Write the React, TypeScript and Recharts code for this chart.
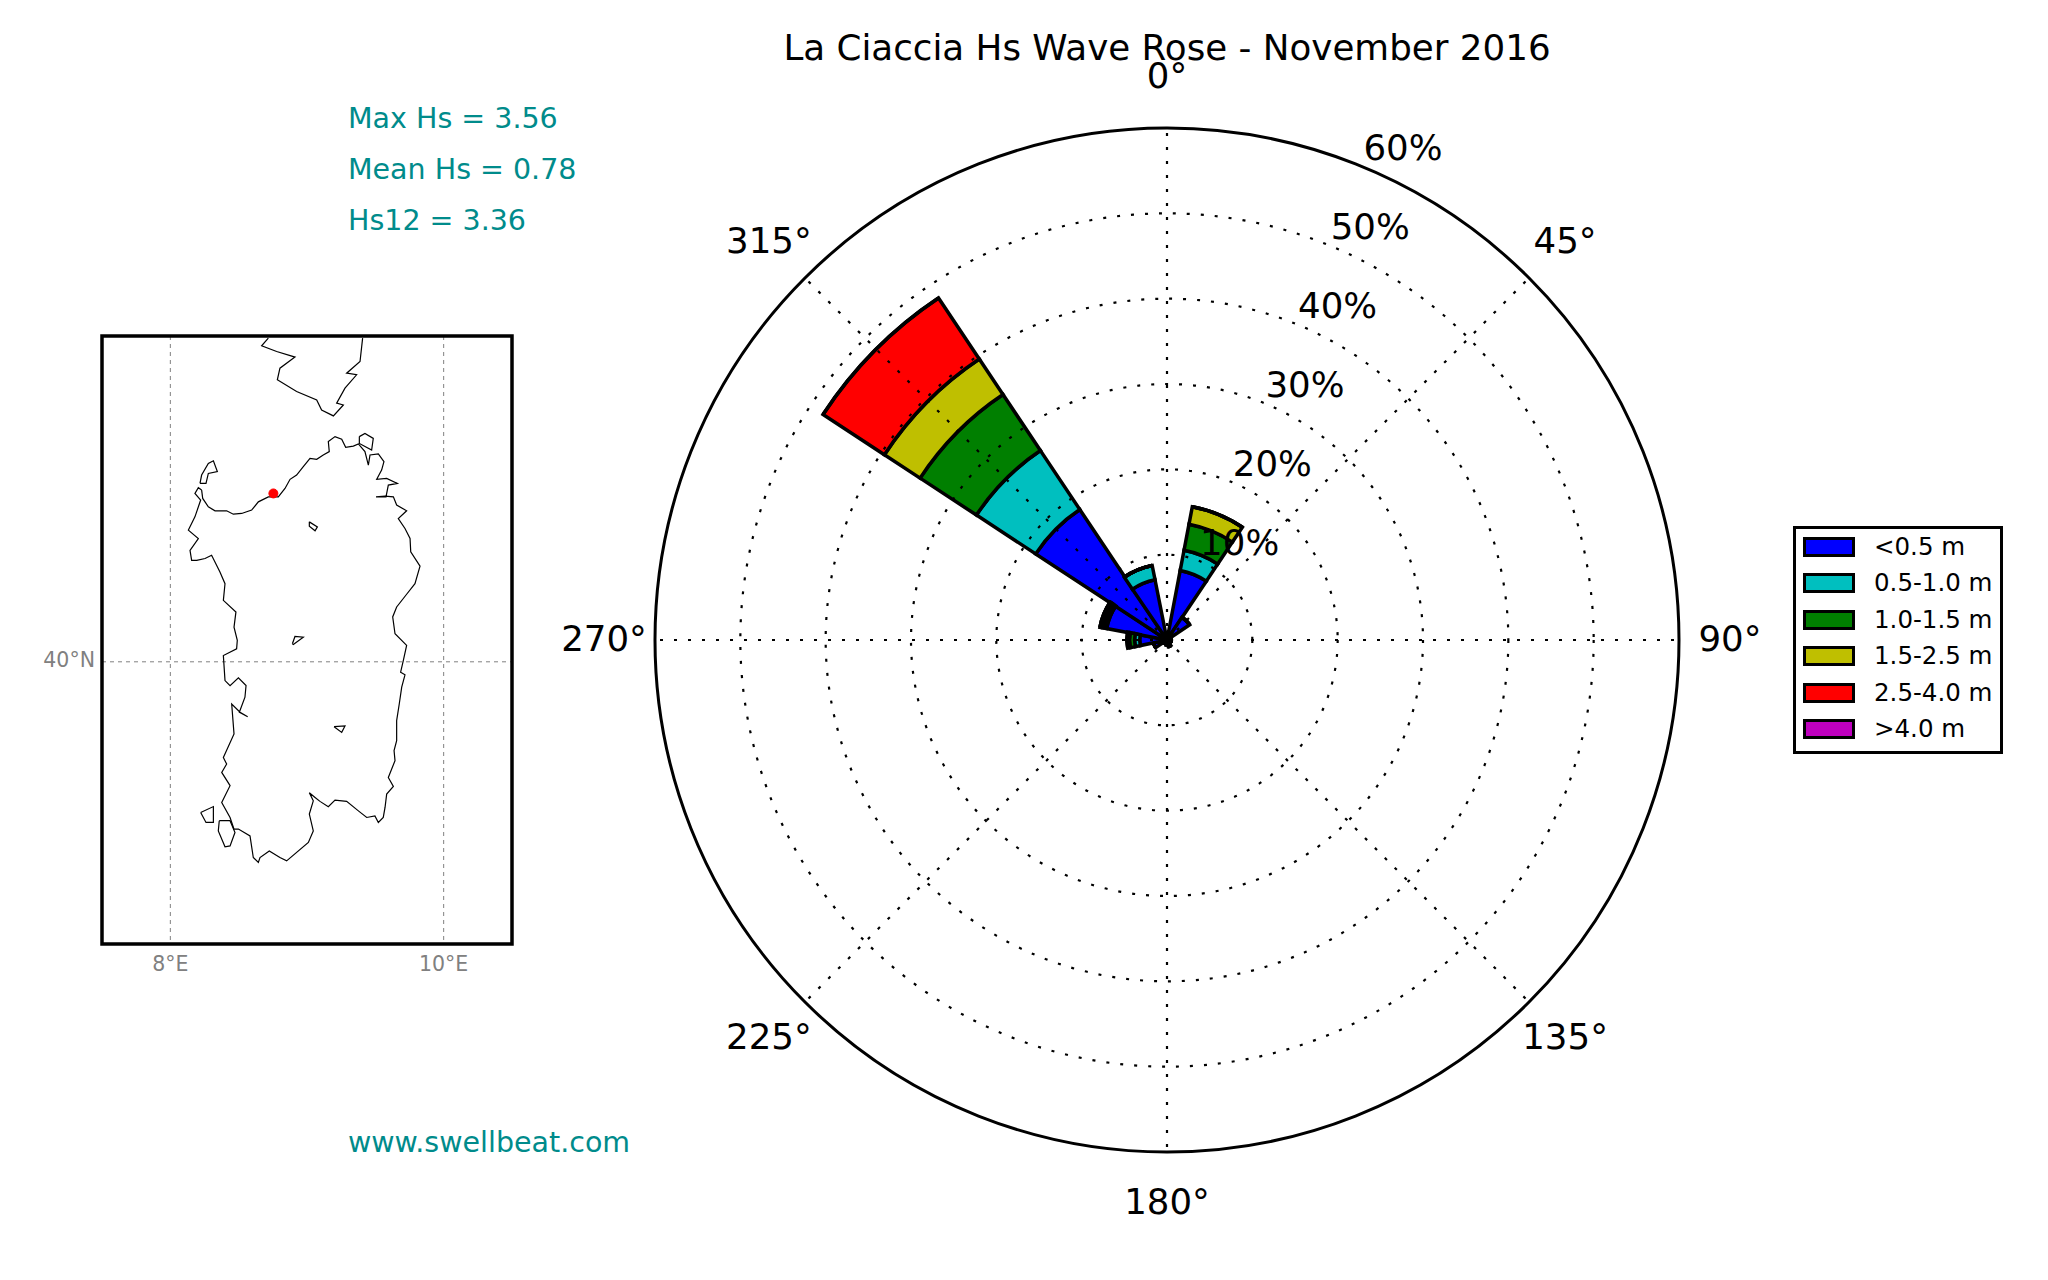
import React from "react";
import {
  RadialBarChart,
  RadialBar,
  PolarAngleAxis,
  PolarRadiusAxis,
  PolarGrid,
  Legend,
  LineChart,
  Line,
  XAxis,
  YAxis,
  CartesianGrid,
  ReferenceArea,
  ReferenceDot,
} from "recharts";

const FONT = "'DejaVu Sans', sans-serif";
const TEAL = "#008b8b";
const CX = 1167;
const CY = 640;
const OUTER = 512;
const LABEL_RADIUS = 563;

const directions = [0, 22.5, 45, 67.5, 90, 112.5, 135, 157.5, 180, 202.5, 225, 247.5, 270, 292.5, 315, 337.5];

// share of records (%) per direction bin
const under05 = [0.2, 8.3, 3.2, 0.5, 0.5, 0.5, 0.4, 0.8, 0.6, 0.4, 0.5, 1.6, 3.2, 7.2, 18.4, 7.2];
const from05to10 = [0, 2.4, 0, 0, 0, 0, 0, 0, 0, 0, 0, 0, 0.6, 0.4, 8.3, 1.7];
const from10to15 = [0, 3.1, 0, 0, 0, 0, 0, 0, 0, 0, 0, 0, 0.6, 0.3, 7.9, 0];
const from15to25 = [0, 2.1, 0, 0, 0, 0, 0, 0, 0, 0, 0, 0, 0.3, 0.1, 5.0, 0];
const from25to40 = [0, 0, 0, 0, 0, 0, 0, 0, 0, 0, 0, 0, 0, 0, 8.6, 0];
const over40 = [0, 0, 0, 0, 0, 0, 0, 0, 0, 0, 0, 0, 0, 0, 0, 0];

const classNames = ["<0.5 m", "0.5-1.0 m", "1.0-1.5 m", "1.5-2.5 m", "2.5-4.0 m", ">4.0 m"];
const classColors = ["#0000ff", "#00bfbf", "#007f00", "#bfbf00", "#ff0000", "#bf00bf"];
const classValues = [under05, from05to10, from10to15, from15to25, from25to40, over40];

const radiusTicks = [0, 10, 20, 30, 40, 50, 60];
const gridAngles = [0, 45, 90, 135, 180, 225, 270, 315];

const statLines = ["Max Hs = 3.56", "Mean Hs = 0.78", "Hs12 = 3.36"];

// map inset, [lon, lat]
const sardinia = [
  [8.229, 40.961], [8.237, 40.914], [8.278, 40.867], [8.327, 40.845], [8.412, 40.845], [8.461, 40.826],
  [8.522, 40.83], [8.595, 40.849], [8.644, 40.895], [8.717, 40.923], [8.79, 40.923], [8.839, 40.97],
  [8.876, 41.021], [8.924, 41.045], [8.973, 41.092], [9.022, 41.138], [9.071, 41.133], [9.119, 41.157],
  [9.163, 41.176], [9.156, 41.232], [9.205, 41.26], [9.254, 41.245], [9.283, 41.2], [9.339, 41.207],
  [9.376, 41.219], [9.424, 41.176], [9.449, 41.101], [9.461, 41.157], [9.522, 41.163], [9.563, 41.12],
  [9.546, 41.073], [9.51, 41.021], [9.583, 41.026], [9.661, 40.998], [9.595, 40.989], [9.578, 40.923],
  [9.505, 40.923], [9.571, 40.927], [9.632, 40.923], [9.656, 40.877], [9.729, 40.845], [9.668, 40.802],
  [9.717, 40.746], [9.754, 40.69], [9.759, 40.615], [9.827, 40.535], [9.79, 40.437], [9.729, 40.378],
  [9.656, 40.307], [9.627, 40.251], [9.644, 40.157], [9.729, 40.092], [9.705, 40.008], [9.685, 39.942],
  [9.717, 39.927], [9.693, 39.858], [9.675, 39.764], [9.656, 39.671], [9.656, 39.559], [9.637, 39.503],
  [9.644, 39.447], [9.595, 39.353], [9.632, 39.303], [9.583, 39.26], [9.571, 39.185], [9.558, 39.129],
  [9.522, 39.101], [9.497, 39.138], [9.437, 39.129], [9.376, 39.166], [9.29, 39.219], [9.205, 39.226],
  [9.156, 39.189], [9.095, 39.219], [9.059, 39.241], [9.017, 39.267], [9.046, 39.222], [9.017, 39.148],
  [9.046, 39.054], [9.01, 38.989], [8.851, 38.886], [8.802, 38.905], [8.724, 38.942], [8.656, 38.905],
  [8.644, 38.877], [8.607, 38.905], [8.583, 39.026], [8.498, 39.064], [8.466, 39.064], [8.437, 39.129],
  [8.376, 39.213], [8.437, 39.307], [8.376, 39.381], [8.412, 39.428], [8.388, 39.465], [8.466, 39.596],
  [8.449, 39.764], [8.51, 39.718], [8.566, 39.693], [8.505, 39.718], [8.546, 39.802], [8.554, 39.867],
  [8.498, 39.91], [8.437, 39.867], [8.4, 39.895], [8.388, 40.035], [8.485, 40.073], [8.49, 40.12],
  [8.466, 40.194], [8.48, 40.279], [8.388, 40.344], [8.4, 40.437], [8.363, 40.503], [8.302, 40.596],
  [8.254, 40.578], [8.193, 40.568], [8.156, 40.568], [8.144, 40.624], [8.205, 40.69], [8.132, 40.737],
  [8.18, 40.811], [8.222, 40.905], [8.18, 40.942], [8.205, 40.974], [8.229, 40.961],
];
const asinara = [
  [8.217, 40.998], [8.229, 41.045], [8.278, 41.11], [8.315, 41.125], [8.344, 41.064], [8.278, 41.054],
  [8.261, 40.998], [8.217, 40.998],
];
const corsica = [
  [8.717, 41.811], [8.668, 41.768], [8.778, 41.736], [8.912, 41.705], [8.802, 41.643], [8.783, 41.578],
  [8.924, 41.512], [9.071, 41.465], [9.107, 41.409], [9.193, 41.376], [9.266, 41.437], [9.217, 41.447],
  [9.278, 41.531], [9.363, 41.606], [9.29, 41.615], [9.388, 41.68], [9.407, 41.811],
];
const maddalena = [
  [9.383, 41.26], [9.424, 41.278], [9.485, 41.25], [9.473, 41.185], [9.383, 41.222], [9.383, 41.26],
];
const lakeCoghinas = [[9.017, 40.783], [9.076, 40.755], [9.059, 40.733], [9.017, 40.759], [9.017, 40.783]];
const lakeOmodeo = [[8.893, 40.101], [8.912, 40.142], [8.973, 40.138], [8.9, 40.097], [8.893, 40.101]];
const lakeFlumendosa = [[9.198, 39.637], [9.278, 39.641], [9.254, 39.605], [9.198, 39.637]];
const sanPietro = [[8.222, 39.157], [8.315, 39.19], [8.315, 39.101], [8.261, 39.101], [8.222, 39.157]];
const santAntioco = [
  [8.358, 39.111], [8.437, 39.111], [8.473, 39.045], [8.437, 38.97], [8.4, 38.965], [8.351, 39.054], [8.358, 39.111],
];
const coastLines = [sardinia, asinara, corsica, maddalena, lakeCoghinas, lakeOmodeo, lakeFlumendosa, sanPietro, santAntioco];
const station = [8.754, 40.942];

const lonTicks = [8, 10];
const latTicks = [40];
const lonDomain = [7.5, 10.5];
const latDomain = [38.421, 41.823];

const tableData = directions.map((dir, i) => {
  const row: Record<string, number> = { dir };
  classNames.forEach((name, c) => {
    row[name] = classValues[c][i];
  });
  return row;
});

// the axis puts ticks on the edge of each bin, so the label goes on its own compass angle
const AngleTick = ({ payload }: any) => {
  if (payload.value % 45 !== 0) return null;
  const rad = (payload.value * Math.PI) / 180;
  return (
    <text
      x={CX + LABEL_RADIUS * Math.sin(rad)}
      y={CY - LABEL_RADIUS * Math.cos(rad) - 1.5}
      textAnchor="middle"
      dominantBaseline="central"
      fontSize={35.6}
      fontFamily={FONT}
      fill="#000"
    >
      {payload.value}°
    </text>
  );
};

const RadiusTick = ({ x, y, payload }: any) => {
  if (payload.value === 0) return null;
  return (
    <text x={x + 40} y={y - 19} textAnchor="middle" dominantBaseline="central" fontSize={35.6} fontFamily={FONT} fill="#000">
      {payload.value}%
    </text>
  );
};

const LatTick = ({ x, y, payload }: any) => (
  <text x={x + 3} y={y - 2} textAnchor="end" dominantBaseline="central" fontSize={20.5} fontFamily={FONT} fill="#808080">
    {payload.value}°N
  </text>
);

const RoseLegend = () => (
  <div
    style={{
      position: "absolute",
      left: 1793,
      top: 526,
      width: 210,
      height: 228,
      boxSizing: "border-box",
      border: "3.5px solid #000",
      background: "#fff",
      fontFamily: FONT,
      fontSize: 24.5,
    }}
  >
    {classNames.map((name, i) => (
      <div key={name} style={{ position: "absolute", left: 0, top: 2 + i * 36.4, height: 36, width: 200 }}>
        <div
          style={{
            position: "absolute",
            left: 7,
            top: 6,
            width: 52,
            height: 20,
            boxSizing: "border-box",
            border: "3.5px solid #000",
            background: classColors[i],
          }}
        />
        <span style={{ position: "absolute", left: 78, top: 2, lineHeight: "28px", whiteSpace: "nowrap" }}>{name}</span>
      </div>
    ))}
  </div>
);

const MapInset = () => (
  <div style={{ position: "absolute", left: 0, top: 0 }}>
    <LineChart width={560} height={1001} margin={{ top: 336, right: 48, bottom: 0, left: 0 }}>
      <CartesianGrid
        horizontalValues={latTicks}
        verticalValues={lonTicks}
        stroke="#808080"
        strokeWidth={1}
        strokeDasharray="4 4"
      />
      <XAxis
        type="number"
        dataKey="lon"
        domain={lonDomain}
        ticks={lonTicks}
        allowDataOverflow
        axisLine={false}
        tickLine={false}
        tickMargin={6}
        height={57}
        tickFormatter={(v) => `${v}°E`}
        tick={{ fontSize: 20.5, fontFamily: FONT, fill: "#808080" }}
      />
      <YAxis
        type="number"
        dataKey="lat"
        domain={latDomain}
        ticks={latTicks}
        allowDataOverflow
        axisLine={false}
        tickLine={false}
        tickMargin={4}
        width={102}
        tick={<LatTick />}
      />
      {coastLines.map((coast, i) => (
        <Line
          key={i}
          data={coast.map(([lon, lat]) => ({ lon, lat }))}
          dataKey="lat"
          type="linear"
          stroke="#000"
          strokeWidth={1.2}
          dot={false}
          isAnimationActive={false}
        />
      ))}
      <ReferenceDot x={station[0]} y={station[1]} r={4.5} fill="#ff0000" stroke="#ff0000" />
      <ReferenceArea
        x1={lonDomain[0]}
        x2={lonDomain[1]}
        y1={latDomain[0]}
        y2={latDomain[1]}
        fill="none"
        stroke="#000"
        strokeWidth={3.5}
        fillOpacity={0}
      />
    </LineChart>
  </div>
);

// second chart on top, recharts paints the polar grid under the bars otherwise
const GridOverlay = () => (
  <div style={{ position: "absolute", left: 0, top: 0, pointerEvents: "none" }}>
    <RadialBarChart
      width={2048}
      height={1280}
      cx={CX}
      cy={CY}
      innerRadius={0}
      outerRadius={OUTER}
      startAngle={78.75}
      endAngle={-281.25}
      layout="centric"
      margin={{ top: 0, right: 0, bottom: 0, left: 0 }}
      data={tableData}
    >
      <PolarGrid
        gridType="circle"
        polarAngles={gridAngles.map((a) => 90 - a)}
        polarRadius={radiusTicks.slice(1, -1).map((t) => (t / 60) * OUTER)}
        stroke="#000"
        strokeWidth={2.2}
        strokeDasharray="3 11"
      />
    </RadialBarChart>
  </div>
);

export default function App() {
  return (
    <div style={{ position: "absolute", left: 0, top: 0, width: 2048, height: 1280, background: "#fff", overflow: "hidden" }}>
      <RadialBarChart
        width={2048}
        height={1280}
        cx={CX}
        cy={CY}
        innerRadius={0}
        outerRadius={OUTER}
        startAngle={78.75}
        endAngle={-281.25}
        layout="centric"
        barCategoryGap={0}
        barGap={0}
        margin={{ top: 0, right: 0, bottom: 0, left: 0 }}
        data={tableData}
      >
        <PolarAngleAxis
          type="category"
          dataKey="dir"
          axisLineType="circle"
          axisLine={{ stroke: "#000", strokeWidth: 3 }}
          tickLine={false}
          tick={<AngleTick />}
        />
        <PolarRadiusAxis
          type="number"
          angle={67.5}
          domain={[0, 60]}
          ticks={radiusTicks}
          axisLine={false}
          tickLine={false}
          tick={<RadiusTick />}
        />
        {classNames.map((name, i) => (
          <RadialBar
            key={name}
            dataKey={name}
            stackId="rose"
            fill={classColors[i]}
            stroke="#000"
            strokeWidth={3.5}
            isAnimationActive={false}
          />
        ))}
        <Legend content={<RoseLegend />} wrapperStyle={{ position: "absolute", left: 0, top: 0, width: 0, height: 0 }} />
      </RadialBarChart>
      <GridOverlay />
      <div style={{ position: "absolute", left: 0, width: 2334, top: 28, textAlign: "center", fontFamily: FONT, fontSize: 35.7, lineHeight: "40px", color: "#000" }}>
        La Ciaccia Hs Wave Rose - November 2016
      </div>
      {statLines.map((line, i) => (
        <div key={line} style={{ position: "absolute", left: 348, top: 103 + i * 51, fontFamily: FONT, fontSize: 28.5, lineHeight: "32px", color: TEAL }}>
          {line}
        </div>
      ))}
      <div style={{ position: "absolute", left: 348, top: 1127, fontFamily: FONT, fontSize: 28.5, lineHeight: "32px", color: TEAL }}>
        www.swellbeat.com
      </div>
      <MapInset />
    </div>
  );
}
